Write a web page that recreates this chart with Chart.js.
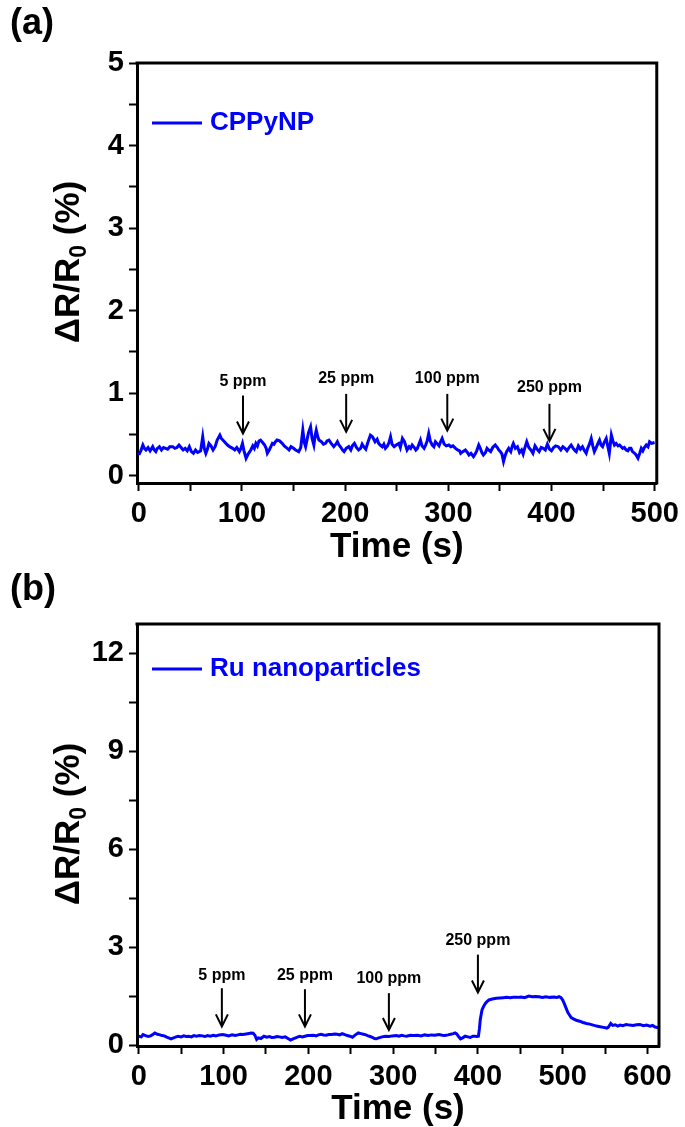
<!DOCTYPE html>
<html><head><meta charset="utf-8">
<script src="https://cdn.jsdelivr.net/npm/chart.js@4.4.1/dist/chart.umd.min.js"></script>
<style>
html,body{margin:0;padding:0;background:#fff;width:685px;height:1127px;overflow:hidden}
#wa{position:absolute;left:0;top:0;width:685px;height:580px}
#wb{position:absolute;left:0;top:560px;width:685px;height:567px}
canvas{display:block}
</style></head><body>
<div id="wa"><canvas id="ca" width="685" height="580"></canvas></div>
<div id="wb"><canvas id="cb" width="685" height="567"></canvas></div>
<script>
// ---------- Panel (a): CPPyNP ----------
const timeA = [0,2,4,5.5,7,9,11,13.5,15,16.5,18,20,22,24,26,28,30,33,35,37,39,41,43,45,47,49,51,53,55,57,58.6,60,62,63.5,65,66.5,68,70,72,74,76,78.6,80,81.5,83,86,88,91,93,95,97.5,99,100.5,102,104,106,108.6,110.5,112,113.5,115,116.5,118,120,122,123.5,124.6,126.5,128,129.5,131,132.5,134,136.5,139,141,143,145.6,147.5,150,152,155,157,159,160.5,161.7,163,164.5,166.5,168,169.7,171,172,173.5,174.6,177,179,181,182.5,184.3,186.5,189,191,192.5,194,196,197.5,199,201,203.5,205.5,207,209,211,213,215,216.5,218,220,222,224.5,226.5,229,231,232.5,234,236,237.5,239,241,242.5,244,245.5,247.5,249.5,252,253.5,255.5,257.5,260,262,263.5,265,267,268.5,270,271.5,273,274.5,276.5,278,279.5,281,282.5,284.4,286,287.5,289,291,292.5,294,296,298,300.5,302.5,304.5,307,309,311,312,314,316.5,318.5,320,322,324.4,326,327.5,329.5,331,332.5,334,336,337.5,339,341,343,345.5,347.5,349,350.5,352,353.5,355,356.5,358.5,360.5,362,363,365,367,369,371,372.5,374,376,378,380,382,384,386,388,390,392,394,396,398,400,402,404,406.5,409,411,413,415,417,419,421,423,424,426,428,430,432,433.6,435,437,438.5,440,441.5,443,445,446.5,448,449.5,451,453,454.5,456,457,458,459.5,461,462.6,464.5,466,467.5,469,470.5,472.4,474,475.5,477,478.5,480.6,482,483.8,485.5,487,488.5,490,491.8,493.5,495,497,499.9];
const valA = [0.25,0.30,0.37,0.33,0.31,0.34,0.30,0.35,0.31,0.29,0.33,0.35,0.31,0.34,0.33,0.32,0.35,0.35,0.33,0.34,0.37,0.34,0.31,0.33,0.30,0.35,0.29,0.27,0.31,0.28,0.29,0.30,0.47,0.33,0.27,0.32,0.39,0.36,0.31,0.35,0.43,0.49,0.45,0.43,0.41,0.37,0.35,0.33,0.31,0.34,0.29,0.33,0.39,0.30,0.21,0.26,0.31,0.36,0.33,0.39,0.36,0.42,0.43,0.40,0.37,0.33,0.27,0.31,0.35,0.39,0.38,0.41,0.43,0.42,0.39,0.36,0.34,0.31,0.35,0.33,0.31,0.29,0.34,0.55,0.40,0.35,0.43,0.52,0.59,0.45,0.37,0.49,0.55,0.47,0.43,0.41,0.38,0.39,0.42,0.43,0.39,0.35,0.38,0.41,0.37,0.34,0.31,0.29,0.33,0.35,0.31,0.36,0.39,0.34,0.31,0.33,0.38,0.35,0.32,0.40,0.49,0.47,0.41,0.44,0.39,0.37,0.35,0.38,0.33,0.36,0.40,0.47,0.38,0.35,0.37,0.39,0.34,0.45,0.41,0.31,0.35,0.33,0.37,0.34,0.31,0.33,0.38,0.43,0.36,0.33,0.37,0.42,0.51,0.42,0.37,0.35,0.41,0.39,0.36,0.41,0.45,0.38,0.36,0.37,0.35,0.36,0.33,0.31,0.30,0.27,0.29,0.31,0.28,0.25,0.27,0.23,0.26,0.30,0.37,0.33,0.28,0.25,0.28,0.33,0.31,0.29,0.34,0.37,0.34,0.31,0.29,0.26,0.17,0.24,0.29,0.33,0.29,0.36,0.39,0.33,0.35,0.28,0.31,0.26,0.33,0.41,0.34,0.31,0.27,0.36,0.32,0.29,0.34,0.33,0.31,0.38,0.32,0.30,0.34,0.36,0.35,0.31,0.35,0.33,0.30,0.34,0.37,0.33,0.30,0.29,0.36,0.32,0.35,0.30,0.27,0.33,0.39,0.45,0.36,0.29,0.33,0.39,0.43,0.37,0.35,0.40,0.45,0.36,0.27,0.38,0.49,0.42,0.37,0.39,0.36,0.37,0.35,0.33,0.34,0.31,0.30,0.33,0.33,0.29,0.27,0.25,0.21,0.27,0.33,0.30,0.34,0.37,0.35,0.41,0.39,0.40];
const labelA = 'CPPyNP';
const ppmA   = ['5 ppm','25 ppm','100 ppm','250 ppm'];
const arrowXA = [101,201,299,398];
const textYA  = [1.14,1.17,1.18,1.07];
const arrowTopA = [0.97,0.99,0.99,0.87];
const arrowTipA = [0.51,0.53,0.545,0.42];

// ---------- Panel (b): Ru nanoparticles ----------
const timeB = [0,3,5,8,11,14,17,19,22,25,27.4,30,33,36,38,41,44,46.4,50,53,56,59,62,65,68,71.6,75,78,81,84.3,88,91,95,99,103,106,110,113.8,117,120,123,126.5,130,132,134.9,137,139,141,144,147.6,151,154,157,160,163,166,169,172.8,176,179,182,185,189.7,193,196,199,202,206,209,212,215,218,221,224,227.7,231,234,237,240,243,246,249,252,254,257,259,262,265,268,269.8,273,276,278,280,283,287,291,295,299,303.6,307,310,313,316,320,324,329,333,337,341.5,345,349,354,358,361,364.7,368,371,373,375,377,379.5,382,385,388,391,394,396.4,399,400.6,401.8,402.8,404,404.9,407,409,411,413,417,421.7,426,430,434,438,442,447,451,455,460,464,468,472,476,480,485,490,493,495.8,498,500,502,504.5,506,508,510,512.6,516,520,524,528,532,536,540,544,548,552,554,556.7,559,562,565,567.7,571,575,579,583,587,591,595,599,603,606,609,613];
const valB = [0.27,0.25,0.32,0.29,0.26,0.28,0.33,0.37,0.33,0.31,0.29,0.28,0.24,0.21,0.19,0.22,0.25,0.27,0.25,0.28,0.26,0.27,0.25,0.29,0.27,0.29,0.28,0.26,0.29,0.27,0.30,0.28,0.31,0.32,0.30,0.28,0.31,0.29,0.31,0.33,0.32,0.34,0.35,0.37,0.36,0.30,0.17,0.22,0.20,0.27,0.24,0.26,0.23,0.24,0.26,0.25,0.23,0.25,0.20,0.15,0.19,0.22,0.27,0.25,0.27,0.29,0.29,0.30,0.28,0.31,0.33,0.31,0.30,0.32,0.32,0.34,0.33,0.31,0.35,0.32,0.29,0.27,0.24,0.28,0.34,0.37,0.35,0.33,0.31,0.29,0.26,0.23,0.20,0.19,0.22,0.25,0.27,0.26,0.28,0.29,0.27,0.30,0.28,0.27,0.30,0.29,0.30,0.28,0.31,0.29,0.31,0.30,0.32,0.30,0.29,0.31,0.33,0.35,0.37,0.34,0.27,0.19,0.22,0.27,0.25,0.23,0.27,0.27,0.26,0.27,0.50,0.78,0.96,1.08,1.20,1.28,1.34,1.38,1.41,1.43,1.44,1.45,1.46,1.45,1.46,1.46,1.47,1.45,1.50,1.48,1.49,1.48,1.46,1.48,1.46,1.47,1.46,1.48,1.45,1.38,1.26,1.10,1.00,0.92,0.84,0.80,0.76,0.73,0.69,0.66,0.64,0.61,0.58,0.56,0.54,0.52,0.55,0.66,0.60,0.62,0.58,0.61,0.59,0.63,0.61,0.60,0.62,0.63,0.59,0.61,0.58,0.60,0.55,0.53];
const labelB = 'Ru nanoparticles';
const ppmB   = ['5 ppm','25 ppm','100 ppm','250 ppm'];
const arrowXB = [98,196,295,400];
const textYB  = [2.13,2.13,2.02,3.2];
const arrowTopB = [1.74,1.71,1.59,2.77];
const arrowTipB = [0.57,0.57,0.46,1.61];

const FONT = '"Liberation Sans", Arial, sans-serif';
Chart.defaults.font.family = FONT;
Chart.defaults.color = '#000';

const decor = {
  id: 'decor',
  afterDraw(chart, args, o) {
    const ctx = chart.ctx, a = chart.chartArea;
    const xs = chart.scales.x, ys = chart.scales.y;
    ctx.save();
    // top & right frame
    ctx.strokeStyle = '#000'; ctx.lineWidth = 3; ctx.lineCap = 'square';
    ctx.beginPath(); ctx.moveTo(a.left, a.top); ctx.lineTo(a.right, a.top); ctx.lineTo(a.right, a.bottom); ctx.stroke();
    ctx.lineCap = 'butt';
    // annotations
    ctx.fillStyle = '#000';
    ctx.font = 'bold 16px ' + FONT; ctx.textAlign = 'center'; ctx.textBaseline = 'middle';
    o.labels.forEach((t, i) => {
      const x = xs.getPixelForValue(o.ax[i]);
      ctx.fillText(t, x, ys.getPixelForValue(o.ty[i]));
      const y0 = ys.getPixelForValue(o.top[i]), y1 = ys.getPixelForValue(o.tip[i]);
      ctx.lineWidth = 2;
      ctx.beginPath(); ctx.moveTo(x, y0); ctx.lineTo(x, y1 - 1); ctx.stroke();
      ctx.beginPath(); ctx.moveTo(x - 6, y1 - 12); ctx.lineTo(x, y1); ctx.lineTo(x + 6, y1 - 12); ctx.stroke();
    });
    // legend
    const ds = chart.data.datasets[0];
    const ly = a.top + o.legendDy;
    ctx.strokeStyle = ds.borderColor; ctx.lineWidth = 3;
    ctx.beginPath(); ctx.moveTo(a.left + 15, ly); ctx.lineTo(a.left + 65, ly); ctx.stroke();
    ctx.fillStyle = ds.borderColor; ctx.textAlign = 'left'; ctx.textBaseline = 'middle';
    ctx.font = 'bold 26px ' + FONT;
    ctx.fillText(ds.label, a.left + 73, ly);
    // y axis title with subscript
    ctx.fillStyle = '#000';
    const cy = (a.top + a.bottom) / 2 - 11;
    ctx.save();
    ctx.translate(79, cy); ctx.rotate(-Math.PI / 2);
    ctx.textBaseline = 'alphabetic'; ctx.textAlign = 'left';
    const big = 'bold 35px ' + FONT, small = 'bold 23px ' + FONT;
    const p1 = '\u0394R/R', p2 = '0', p3 = ' (%)';
    ctx.font = big; const w1 = ctx.measureText(p1).width, w3 = ctx.measureText(p3).width;
    ctx.font = small; const w2 = ctx.measureText(p2).width;
    let x = -(w1 + w2 + w3) / 2;
    ctx.font = big; ctx.fillText(p1, x, 0); x += w1;
    ctx.font = small; ctx.fillText(p2, x, 7); x += w2;
    ctx.font = big; ctx.fillText(p3, x, 0);
    ctx.restore();
    // panel letter
    ctx.font = 'bold 36px ' + FONT; ctx.textAlign = 'left'; ctx.textBaseline = 'middle';
    ctx.fillText(o.letter, 10, o.letterY);
    ctx.restore();
  }
};

function makeChart(id, times, vals, label, cfg) {
  const pts = times.map((t, i) => ({x: t, y: vals[i]}));
  return new Chart(document.getElementById(id), {
    type: 'line',
    data: { datasets: [{ label: label, data: pts, borderColor: '#0000ff', backgroundColor: '#0000ff',
      borderWidth: 3, pointRadius: 0, tension: 0, fill: false }] },
    plugins: [decor],
    options: {
      responsive: false, animation: false, events: [],
      layout: { padding: { left: 0, right: 26, top: cfg.padTop, bottom: 0 } },
      plugins: {
        legend: { display: false }, tooltip: { enabled: false },
        decor: cfg.decor
      },
      scales: {
        x: {
          type: 'linear', min: cfg.xmin, max: cfg.xmax,
          afterFit: s => { s.height = cfg.xH; },
          grid: { display: true, drawOnChartArea: false, drawTicks: true, tickLength: 8, tickWidth: 2, tickColor: '#000', color: '#000' },
          border: { display: true, color: '#000', width: 3 },
          ticks: { stepSize: 50, includeBounds: false, padding: 6, color: '#000', maxRotation: 0, autoSkip: false,
            font: { size: 29, weight: 'bold', lineHeight: 1.2 },
            callback: v => (Math.abs(v / 100 - Math.round(v / 100)) < 1e-6 ? String(Math.round(v)) : '') },
          title: { display: true, text: 'Time (s)', color: '#000', font: { size: 35, weight: 'bold', lineHeight: 1 },
            padding: { top: 0, bottom: cfg.titlePad } }
        },
        y: {
          type: 'linear', min: cfg.ymin, max: cfg.ymax,
          afterFit: s => { s.width = 137; },
          grid: { display: true, drawOnChartArea: false, drawTicks: true, tickLength: 8, tickWidth: 2, tickColor: '#000', color: '#000' },
          border: { display: true, color: '#000', width: 3 },
          ticks: { stepSize: cfg.ystep, includeBounds: false, padding: 5, color: '#000', autoSkip: false,
            font: { size: 29, weight: 'bold', lineHeight: 1.2 },
            callback: v => (Math.abs(v / cfg.ymajor - Math.round(v / cfg.ymajor)) < 1e-6 ? String(Math.round(v)) : '') }
        }
      }
    }
  });
}

makeChart('ca', timeA, valA, labelA, {
  padTop: 63, xH: 97, titlePad: 15.5,
  xmin: -1.7, xmax: 502, ymin: -0.09, ymax: 5, ystep: 0.5, ymajor: 1,
  decor: { labels: ppmA, ax: arrowXA, ty: textYA, top: arrowTopA, tip: arrowTipA, legendDy: 60, letter: '(a)', letterY: 24 }
});
makeChart('cb', timeB, valB, labelB, {
  padTop: 64, xH: 81, titlePad: 0,
  xmin: -2.1, xmax: 613.6, ymin: -0.03, ymax: 12.9, ystep: 1.5, ymajor: 3,
  decor: { labels: ppmB, ax: arrowXB, ty: textYB, top: arrowTopB, tip: arrowTipB, legendDy: 45, letter: '(b)', letterY: 30 }
});
</script>
</body></html>
